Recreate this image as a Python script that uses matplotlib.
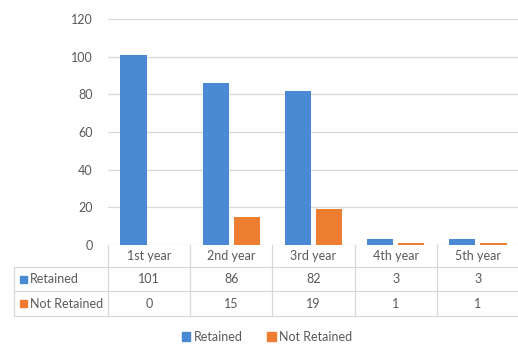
import matplotlib
matplotlib.use("Agg")
import matplotlib.pyplot as plt
from matplotlib.patches import Patch
from matplotlib.lines import Line2D
from matplotlib.transforms import blended_transform_factory
import numpy as np

years = ["1st year", "2nd year", "3rd year", "4th year", "5th year"]
retained = [101, 86, 82, 3, 3]
not_retained = [0, 15, 19, 1, 1]
series_names = ["Retained", "Not Retained"]
yticks = [0, 20, 40, 60, 80, 100, 120]

BLUE = "#4A89D4"
ORANGE = "#ED7D31"
TXT = "#595959"
GRID = "#D9D9D9"

plt.rcParams["font.family"] = ["Lato", "DejaVu Sans"]

W, H = 518, 345
fig = plt.figure(figsize=(W / 100, H / 100), dpi=100)


def fx(px):
    return px / W


def fy(py):
    return 1 - py / H


ax_left, ax_right = 108, 519
ax_top, ax_bot = 19, 245
ax = fig.add_axes([fx(ax_left), fy(ax_bot), fx(ax_right - ax_left), fy(ax_top) - fy(ax_bot)])

x = np.arange(len(years))
bw = 0.32
off = 0.19
ax.bar(x - off, retained, bw, color=BLUE, zorder=3)
ax.bar(x + off, not_retained, bw, color=ORANGE, zorder=3)

fs = 9
ax.set_xlim(-0.5, len(years) - 0.5)
ax.set_ylim(0, 120)
ax.set_yticks(yticks)
ax.set_xticks([])
ax.tick_params(axis="y", length=0, pad=11, labelsize=fs, labelcolor=TXT)
ax.grid(axis="y", color=GRID, lw=0.9, zorder=0)
for s in ax.spines.values():
    s.set_visible(False)

# data table under the plot
tr = blended_transform_factory(ax.transData, fig.transFigure)
row_y = [245, 267, 291, 316]
left_px = 14
lc = dict(color=GRID, lw=0.9)

for yy in row_y[1:]:
    fig.add_artist(Line2D([fx(left_px), fx(ax_right)], [fy(yy), fy(yy)], **lc))
fig.add_artist(Line2D([fx(left_px), fx(left_px)], [fy(row_y[1]), fy(row_y[3])], **lc))
for b in np.arange(len(years) + 1) - 0.5:
    fig.add_artist(Line2D([b, b], [fy(row_y[0]), fy(row_y[3])], transform=tr, **lc))

for i, yr in enumerate(years):
    cy = fy((row_y[0] + row_y[1]) / 2)
    fig.text(i, cy, yr, transform=tr, ha="center", va="center", fontsize=fs, color=TXT)
    for r, vals in enumerate([retained, not_retained]):
        cy = fy((row_y[r + 1] + row_y[r + 2]) / 2)
        fig.text(i, cy, str(vals[i]), transform=tr, ha="center", va="center", fontsize=fs, color=TXT)

for r, (name, col) in enumerate(zip(series_names, [BLUE, ORANGE])):
    cy = (row_y[r + 1] + row_y[r + 2]) / 2
    fig.add_artist(plt.Rectangle((fx(20), fy(cy + 3.5)), fx(7), fy(0) - fy(7), color=col, transform=fig.transFigure))
    fig.text(fx(30), fy(cy), name, ha="left", va="center", fontsize=fs, color=TXT)

handles = [Patch(color=BLUE, label=series_names[0]), Patch(color=ORANGE, label=series_names[1])]
fig.legend(handles=handles, loc="center", bbox_to_anchor=(fx(267), fy(337)), ncol=2,
           frameon=False, fontsize=fs, labelcolor=TXT, handlelength=0.7, handleheight=0.7,
           handletextpad=0.3, columnspacing=1.9)

fig.savefig("out.png", dpi=100)
